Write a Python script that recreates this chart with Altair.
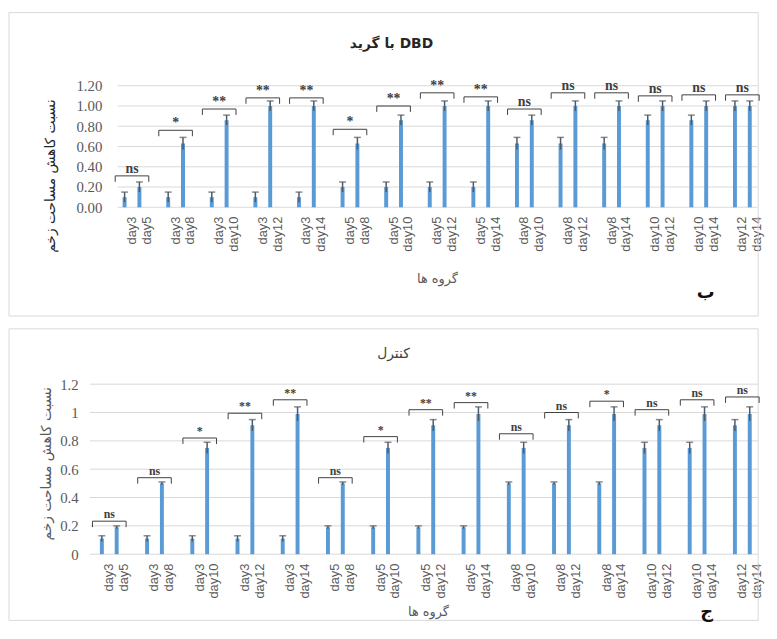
import altair as alt
import pandas as pd

# comparisons (pairs of days)
first_day = ["day3", "day3", "day3", "day3", "day3", "day5", "day5", "day5", "day5",
             "day8", "day8", "day8", "day10", "day10", "day12"]
second_day = ["day5", "day8", "day10", "day12", "day14", "day8", "day10", "day12", "day14",
              "day10", "day12", "day14", "day12", "day14", "day14"]

days = ["day3", "day5", "day8", "day10", "day12", "day14"]

# DBD with grid (top panel)
dbd_mean = [0.10, 0.20, 0.63, 0.86, 1.00, 1.00]
dbd_err = [0.05, 0.05, 0.06, 0.05, 0.05, 0.05]
dbd_bracket = [0.31, 0.76, 0.97, 1.08, 1.08, 0.77, 1.00, 1.13, 1.09, 0.97, 1.13, 1.13, 1.10, 1.11, 1.11]
dbd_sig = ["ns", "*", "**", "**", "**", "*", "**", "**", "**", "ns", "ns", "ns", "ns", "ns", "ns"]
dbd_ticks = [0.0, 0.2, 0.4, 0.6, 0.8, 1.0, 1.2]

# control (bottom panel)
ctrl_mean = [0.11, 0.19, 0.50, 0.75, 0.91, 0.99]
ctrl_err = [0.02, 0.01, 0.01, 0.04, 0.04, 0.05]
ctrl_bracket = [0.233, 0.54, 0.82, 0.995, 1.09, 0.54, 0.83, 1.02, 1.07, 0.85, 1.00, 1.08, 1.02, 1.09, 1.11]
ctrl_sig = ["ns", "ns", "*", "**", "**", "ns", "*", "**", "**", "ns", "ns", "*", "ns", "ns", "ns"]
ctrl_ticks = [0.0, 0.2, 0.4, 0.6, 0.8, 1.0, 1.2]

y_title = "نسبت کاهش مساحت زخم"
x_title = "گروه ها"
top_title = "\u202bDBD با گرید\u202c"
bottom_title = "کنترل"
top_letter = "ب"
bottom_letter = "ج"

comp_keys = [f"{a}|{b}" for a, b in zip(first_day, second_day)]

BLUE = "#5B9BD5"
ERR = "#4d5a66"
GRID = "#d9d9d9"
GRAY = "#595959"


def make_panel(means, errs, brackets, sigs, yticks, c):
    rows = []
    for key, a, b in zip(comp_keys, first_day, second_day):
        for m, d in (("a", a), ("b", b)):
            j = days.index(d)
            rows.append({"comp": key, "member": m, "value": means[j],
                         "lo": means[j] - errs[j], "hi": means[j] + errs[j]})
    bars_df = pd.DataFrame(rows)
    br_df = pd.DataFrame({"comp": comp_keys, "h": brackets, "sig": sigs})
    tick_df = pd.DataFrame({"v": yticks})
    one = pd.DataFrame({"k": [0]})

    p = c["pad"]
    xs = alt.Scale(domain=comp_keys, range=c["xrange"], paddingInner=p, paddingOuter=p / 2)
    ys = alt.Scale(domain=[0, 1.2], nice=False, zero=True)
    xo = alt.XOffset("member:N", scale=alt.Scale(paddingInner=0, paddingOuter=0))

    x_axis = alt.Axis(
        title=x_title, labelExpr="split(datum.value, '|')", labelAngle=270,
        labelFont="Liberation Sans", labelFontSize=13, labelColor=GRAY,
        labelLineHeight=15, labelPadding=9, domain=False, ticks=False, tickSize=0,
        titleFont="DejaVu Sans", titleFontSize=13, titleFontWeight="normal",
        titleColor=GRAY, titleX=c["xtx"], titleY=c["xty"], titleBaseline="middle",
        labelOverlap=False, grid=False,
    )
    y_axis = alt.Axis(
        title=y_title, values=yticks, format=c["fmt"], grid=False, domain=False,
        ticks=False, tickSize=0, offset=c["yoff"], labelPadding=c["ylp"],
        labelFont="Liberation Serif", labelFontSize=15, labelColor=GRAY,
        titleFont="DejaVu Sans", titleFontSize=14, titleFontWeight="normal",
        titleColor=c["ytc"], titleX=c["ytx"], titleY=c["yty"], titleBaseline="middle",
        titleAngle=270,
    )

    def X(field):
        return alt.X(field, scale=xs, axis=x_axis)

    def Y(field):
        return alt.Y(field, scale=ys, axis=y_axis)

    border = alt.Chart(one).mark_rect(filled=False, color=GRID, strokeWidth=1).encode(
        x=alt.value(c["box"][0]), x2=alt.value(c["box"][1]),
        y=alt.value(c["box"][2]), y2=alt.value(c["box"][3]),
    )
    grid = alt.Chart(tick_df).mark_rule(color=GRID, strokeWidth=1).encode(
        y=Y("v:Q"),
        x=alt.value(c["grid"][0]), x2=alt.value(c["grid"][1]),
    )
    bars = alt.Chart(bars_df).mark_bar(width=4, color=BLUE).encode(
        x=X("comp:N"), xOffset=xo, y=Y("value:Q"),
    )
    err = alt.Chart(bars_df).mark_rule(color=ERR, strokeWidth=1.5).encode(
        x=X("comp:N"), xOffset=xo, y=Y("lo:Q"), y2="hi:Q",
    )
    caps = alt.Chart(bars_df).mark_tick(color=ERR, thickness=1.5, size=7, orient="horizontal").encode(
        x=X("comp:N"), xOffset=xo, y=Y("hi:Q"),
    )
    hw = c["half"]
    br_h = alt.Chart(br_df).mark_rule(color="#404040", strokeWidth=1, xOffset=-hw, x2Offset=hw).encode(
        x=X("comp:N"), x2="comp:N", y=Y("h:Q"),
    )
    br_l = alt.Chart(br_df).mark_rule(color="#404040", strokeWidth=1, xOffset=-hw, y2Offset=6).encode(
        x=X("comp:N"), y=Y("h:Q"), y2="h:Q",
    )
    br_r = alt.Chart(br_df).mark_rule(color="#404040", strokeWidth=1, xOffset=hw, y2Offset=6).encode(
        x=X("comp:N"), y=Y("h:Q"), y2="h:Q",
    )
    sig = alt.Chart(br_df).mark_text(
        font="Liberation Serif", fontSize=c["sigsize"], fontWeight="bold", color="#404040",
        baseline="alphabetic", dy=-3,
    ).encode(x=X("comp:N"), y=Y("h:Q"), text="sig:N")
    ttl = alt.Chart(one).mark_text(
        font="DejaVu Sans", fontSize=14, fontWeight=c["tw"], color=c["tc"],
        align="center", baseline="middle",
    ).encode(x=alt.value(c["tpos"][0]), y=alt.value(c["tpos"][1]), text=alt.value(c["title"]))
    letter = alt.Chart(one).mark_text(
        font="DejaVu Sans", fontSize=18, fontWeight="bold", color="#111111",
        align="center", baseline="middle",
    ).encode(x=alt.value(c["lpos"][0]), y=alt.value(c["lpos"][1]), text=alt.value(c["letter"]))

    return alt.layer(border, grid, bars, err, caps, br_h, br_l, br_r, sig, ttl, letter).properties(
        width=678, height=c["height"]
    )


top = make_panel(dbd_mean, dbd_err, dbd_bracket, dbd_sig, dbd_ticks, {
    "pad": 0.32, "xrange": [20.4, 682.1], "grid": [28, 675], "fmt": ".2f",
    "yoff": -16, "ylp": 4, "ytc": "#262626", "ytx": -56, "yty": 91,
    "xtx": 351, "xty": 72, "box": [-82, 676, -74, 233], "half": 17, "sigsize": 14,
    "tw": "bold", "tc": "#262626", "tpos": [305, -42], "title": top_title,
    "lpos": [623, 210], "letter": top_letter, "height": 123,
})

bottom = make_panel(ctrl_mean, ctrl_err, ctrl_bracket, ctrl_sig, ctrl_ticks, {
    "pad": 0.344, "xrange": [-3.4, 682.9], "grid": [0, 676], "fmt": ".1~f",
    "yoff": 0, "ylp": 12, "ytc": GRAY, "ytx": -44, "yty": 80,
    "xtx": 342, "xty": 58, "box": [-82, 676, -56, 239], "half": 17, "sigsize": 12,
    "tw": "normal", "tc": "#404040", "tpos": [307, -31], "title": bottom_title,
    "lpos": [624, 231], "letter": bottom_letter, "height": 172,
})

chart = alt.vconcat(top, bottom, spacing=11).properties(padding=0).configure_view(stroke=None)

chart.save("out.html", embed_options={"renderer": "svg", "actions": False})
